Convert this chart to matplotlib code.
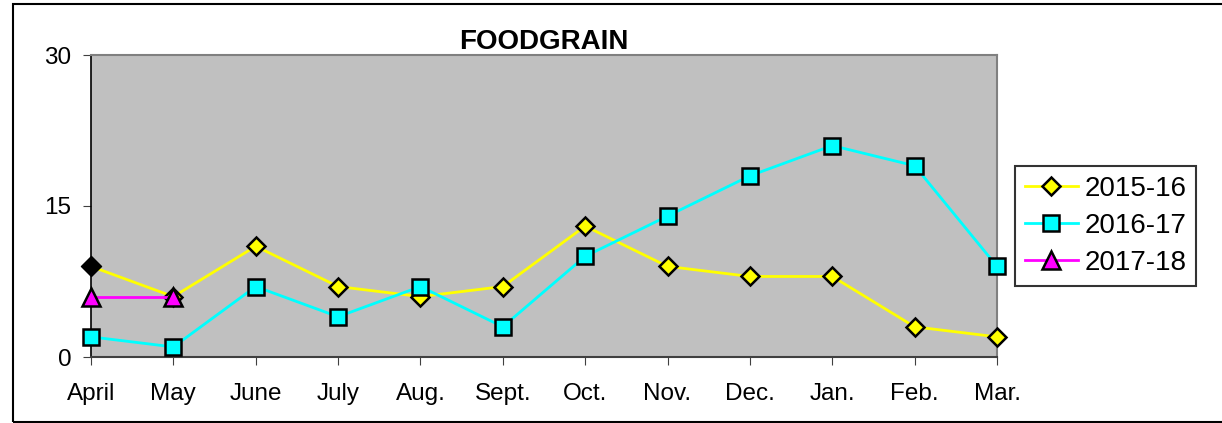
import matplotlib.pyplot as plt
from matplotlib.patches import Rectangle

plt.rcParams['font.family'] = ['Liberation Sans', 'DejaVu Sans']

months = ['April', 'May', 'June', 'July', 'Aug.', 'Sept.', 'Oct.', 'Nov.',
          'Dec.', 'Jan.', 'Feb.', 'Mar.']
fy_2015_16 = [9, 6, 11, 7, 6, 7, 13, 9, 8, 8, 3, 2]
fy_2016_17 = [2, 1, 7, 4, 7, 3, 10, 14, 18, 21, 19, 9]
fy_2017_18 = [6, 6]

fig = plt.figure(figsize=(12.22, 4.23), dpi=100)
ax = fig.add_axes([91 / 1222, 66 / 423, 906 / 1222, 302 / 423])
ax.set_facecolor('#c0c0c0')

x = list(range(len(months)))
ax.plot(x, fy_2015_16, color='#ffff00', lw=2, marker='D', ms=9.5,
        mfc='#ffff00', mec='black', mew=1.8, label='2015-16', zorder=3,
        clip_on=False)
# first point drawn black in the original
ax.plot(x[0], fy_2015_16[0], marker='D', ms=9.5, mfc='black', mec='black',
        mew=1.8, ls='none', zorder=3, clip_on=False)
ax.plot(x, fy_2016_17, color='#00ffff', lw=2, marker='s', ms=11,
        mfc='#00ffff', mec='black', mew=1.8, label='2016-17', zorder=4,
        clip_on=False)
ax.plot(x[:len(fy_2017_18)], fy_2017_18, color='#ff00ff', lw=2, marker='^',
        ms=12.5, mfc='#ff00ff', mec='black', mew=1.8, label='2017-18',
        zorder=5, clip_on=False)

ax.set_xlim(0, len(months) - 1)
ax.set_ylim(0, 30)
ax.set_yticks([0, 15, 30])
ax.set_xticks(x)
ax.set_xticklabels(months)
ax.tick_params(axis='both', labelsize=17.5, direction='out', length=6,
               color='#404040')
ax.tick_params(axis='x', pad=13)
ax.tick_params(axis='y', pad=8)

for side in ['top', 'right']:
    ax.spines[side].set_color('#808080')
    ax.spines[side].set_linewidth(1.5)
ax.spines['left'].set_color('black')
ax.spines['bottom'].set_color('#404040')
ax.spines['left'].set_linewidth(1.2)
ax.spines['bottom'].set_linewidth(1.5)

ax.set_title('FOODGRAIN', fontsize=20, fontweight='bold', pad=1)

leg = ax.legend(loc='center left', bbox_to_anchor=(1.02, 0.434), fontsize=20,
                frameon=True, fancybox=False, edgecolor='black',
                borderpad=0.35, handlelength=1.9, labelspacing=0.4,
                handletextpad=0.25, borderaxespad=0)
leg.get_frame().set_linewidth(1.5)

fig.patches.append(Rectangle((13 / 1222, 1 / 423), 1.1, 418 / 423,
                             transform=fig.transFigure, fill=False,
                             edgecolor='black', lw=1.5))

fig.savefig('out.png', dpi=100)
